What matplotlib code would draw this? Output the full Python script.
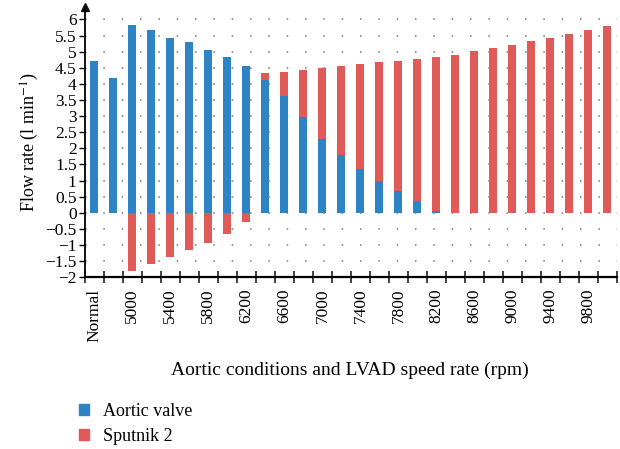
import matplotlib
matplotlib.use("Agg")
import matplotlib.pyplot as plt
from matplotlib.patches import Patch
import numpy as np

plt.rcParams['font.family'] = ['Liberation Serif', 'DejaVu Serif']
plt.rcParams['mathtext.fontset'] = 'stix'

# categories: normal aorta, failing heart, then LVAD speeds (rpm)
categories = ["Normal", "Failing"] + [str(s) for s in range(5000, 10001, 200)]
aortic_valve = [4.71, 4.19, 5.82, 5.67, 5.42, 5.30, 5.05, 4.84, 4.56, 4.13,
                3.63, 2.98, 2.30, 1.80, 1.37, 1.00, 0.67, 0.36, 0.07, 0.0,
                0.0, 0.0, 0.0, 0.0, 0.0, 0.0, 0.0, 0.0]
sputnik_2 = [0.0, 0.0, -1.81, -1.60, -1.37, -1.15, -0.94, -0.67, -0.29, 0.21,
             0.74, 1.45, 2.19, 2.76, 3.25, 3.68, 4.04, 4.41, 4.77, 4.90,
             5.02, 5.11, 5.21, 5.33, 5.42, 5.55, 5.67, 5.79]

blue = "#2c84c4"
red = "#e05a57"

fig = plt.figure(figsize=(6.2, 4.49), dpi=100)
ax = fig.add_axes([0.137, 0.3824, 0.858, 0.603])

x = np.arange(len(categories))
av = np.array(aortic_valve)
sp = np.array(sputnik_2)
# excel-like stacking: negatives hang from zero, positives sit on the aortic flow
bottom = np.where(sp >= 0, np.clip(av, 0, None), 0)

ax.bar(x, av, width=0.42, color=blue, zorder=3)
ax.bar(x, sp, width=0.42, bottom=bottom, color=red, zorder=3)

ax.set_xlim(-0.5, len(categories) - 0.5)
ax.set_ylim(-2, 6.4)
ax.set_yticks(np.arange(-2, 6.01, 0.5))
ax.set_yticklabels([("%g" % v).replace("-", "\u2212") for v in np.arange(-2, 6.01, 0.5)],
                   fontsize=12.5)
for v in np.arange(-1.5, 6.01, 0.5):
    ax.axhline(v, color="#777777", lw=1.1, ls=(0, (1, 11)), zorder=1)

# boundary ticks on the x axis, labels on every other category
ax.set_xticks(np.arange(-0.5, len(categories), 1.0), minor=False)
ax.set_xticklabels([])
ax.tick_params(axis="x", direction="inout", length=9, width=1.2, color="#222222")
ax.set_xticks(x[::2], minor=True)
ax.set_xticklabels(categories[::2], minor=True, rotation=90, fontsize=12.5)
ax.tick_params(axis="x", which="minor", length=0, pad=8)
ax.tick_params(axis="y", direction="out", length=4, width=1.0, pad=2)

for s in ["top", "right"]:
    ax.spines[s].set_visible(False)
ax.spines["left"].set_linewidth(1.3)
ax.spines["bottom"].set_linewidth(1.6)
ax.plot(0, 1, "^", transform=ax.transAxes, color="#111111", ms=6, clip_on=False)

ax.set_ylabel("Flow rate (l min$^{-1}$)", fontsize=13, labelpad=3)
fig.text(0.565, 0.175, "Aortic conditions and LVAD speed rate (rpm)",
         ha="center", va="center", fontsize=14)

handles = [Patch(color=blue, label="Aortic valve"), Patch(color=red, label="Sputnik 2")]
fig.legend(handles=handles, loc="upper left", bbox_to_anchor=(0.113, 0.123),
           frameon=False, fontsize=13, handlelength=0.55, handleheight=0.55,
           handletextpad=0.75, labelspacing=0.45, borderpad=0)

fig.savefig("out.png", dpi=100)
